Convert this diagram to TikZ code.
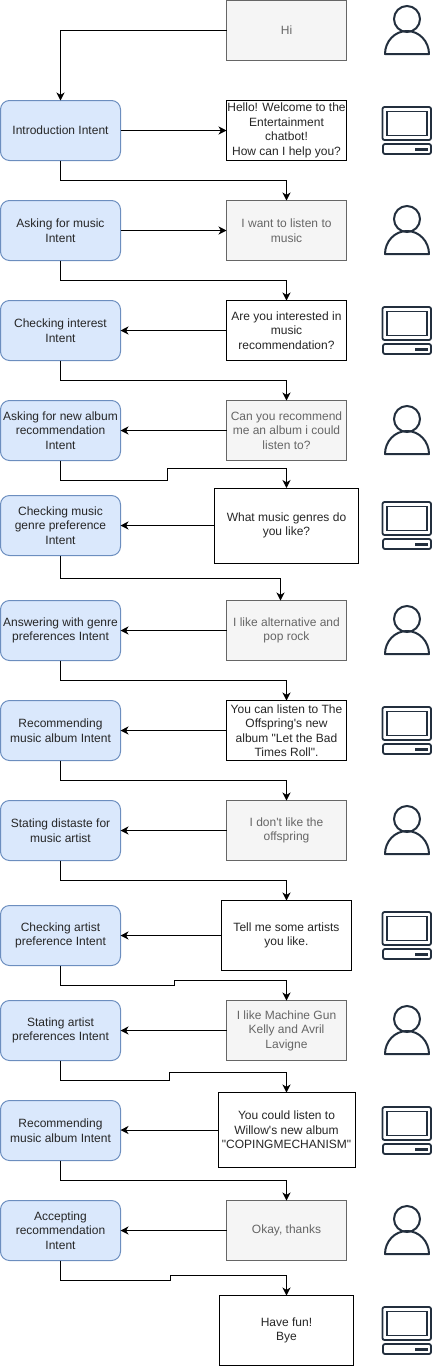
\documentclass[tikz,border=0pt]{standalone}
\usepackage{fontspec}
\setmainfont{Liberation Sans}[Ligatures=TeXOff]
\usetikzlibrary{arrows.meta,positioning}
\definecolor{intentfill}{HTML}{DAE8FC}
\definecolor{intentline}{HTML}{6C8EBF}
\definecolor{userfill}{HTML}{F5F5F5}
\definecolor{userline}{HTML}{666666}
\definecolor{iconline}{HTML}{232F3E}
\tikzset{
  base/.style={align=center,inner sep=0pt,outer sep=0pt,line width=1pt,font=\fontsize{12}{14.5}\selectfont},
  intent/.style={base,draw=intentline,fill=intentfill,rounded corners=9pt,minimum width=120pt,minimum height=60pt,text=black!85},
  userbox/.style={base,draw=userline,fill=userfill,text=userline,minimum width=120pt,minimum height=60pt},
  botbox/.style={base,draw=black,fill=white,text=black!85,minimum width=120pt,minimum height=60pt},
  conn/.style={draw=black,line width=1pt,-{Stealth[length=8pt,width=8pt,inset=2.4pt]}},
  usericon/.pic={
    \draw[iconline,line width=2pt] (0,0) circle [radius=13pt];
    \draw[iconline,line width=2pt,line join=round] (-22,35) arc[start angle=180,end angle=0,x radius=22pt,y radius=23pt] -- cycle;
  },
  pcicon/.pic={
    \draw[iconline,line width=1.8pt,rounded corners=2pt] (0,0) rectangle (48.5,33);
    \draw[iconline,line width=1.8pt] (4.5,4.5) rectangle (44.5,28.5);
    \draw[iconline,line width=1.8pt,rounded corners=2pt] (0.5,37) rectangle (48.5,47);
    \fill[iconline] (32,40.5) rectangle (45,44);
  }
}
\begin{document}
\begin{tikzpicture}[x=1pt,y=-1pt]
\useasboundingbox (0,0) rectangle (433,1366);
% left intents
\node[intent] (L1) at (60.5,130.5) {Introduction Intent};
\node[intent] (L2) at (60.5,230.5) {Asking for music\\Intent};
\node[intent] (L3) at (60.5,330.5) {Checking interest\\Intent};
\node[intent] (L4) at (60.5,430.5) {Asking for new album\\recommendation\\Intent};
\node[intent] (L5) at (60.5,525.5) {Checking music\\genre preference\\Intent};
\node[intent] (L6) at (60.5,630.5) {Answering with genre\\preferences Intent};
\node[intent] (L7) at (60.5,730.5) {Recommending\\music album Intent};
\node[intent] (L8) at (60.5,830.5) {Stating distaste for\\music artist};
\node[intent] (L9) at (60.5,935.5) {Checking artist\\preference Intent};
\node[intent] (L10) at (60.5,1030.5) {Stating artist\\preferences Intent};
\node[intent] (L11) at (60.5,1130.5) {Recommending\\music album Intent};
\node[intent] (L12) at (60.5,1230.5) {Accepting\\recommendation\\Intent};
% right messages
\node[userbox] (R0) at (286.5,30.5) {Hi};
\node[botbox] (R1) at (286.5,130.5) {Hello! Welcome to the\\Entertainment\\chatbot!\\How can I help you?};
\node[userbox] (R2) at (286.5,230.5) {I want to listen to\\music};
\node[botbox] (R3) at (286.5,330.5) {Are you interested in\\music\\recommendation?};
\node[userbox] (R4) at (286.5,430.5) {Can you recommend\\me an album i could\\listen to?};
\node[botbox,minimum width=144pt,minimum height=75pt] (R5) at (286.5,525.5) {What music genres do\\you like?};
\node[userbox] (R6) at (286.5,630.5) {I like alternative and\\pop rock};
\node[botbox] (R7) at (286.5,730.5) {You can listen to The\\Offspring's new\\album "Let the Bad\\Times Roll".};
\node[userbox] (R8) at (286.5,830.5) {I don't like the\\offspring};
\node[botbox,minimum width=130pt,minimum height=70pt] (R9) at (286.5,935.5) {Tell me some artists\\you like.};
\node[userbox] (R10) at (286.5,1030.5) {I like Machine Gun\\Kelly and Avril\\Lavigne};
\node[botbox,minimum width=137pt,minimum height=75pt] (R11) at (286.5,1130) {You could listen to\\Willow's new album\\"COPINGMECHANISM"};
\node[userbox] (R12) at (286.5,1230.5) {Okay, thanks};
\node[botbox,minimum width=134pt,minimum height=70pt] (R13) at (286.5,1330.5) {Have fun!\\Bye};
% horizontal connectors
\draw[conn] (R0.west) -| (L1.north);
\draw[conn] (L1.east) -- (R1.west);
\draw[conn] (L2.east) -- (R2.west);
\draw[conn] (R3.west) -- (L3.east);
\draw[conn] (R4.west) -- (L4.east);
\draw[conn] (R5.west) -- (L5.east);
\draw[conn] (R6.west) -- (L6.east);
\draw[conn] (R7.west) -- (L7.east);
\draw[conn] (R8.west) -- (L8.east);
\draw[conn] (R9.west) -- (L9.east);
\draw[conn] (R10.west) -- (L10.east);
\draw[conn] (R11.west) -- (L11.east |- R11.west);
\draw[conn] (R12.west) -- (L12.east);
% vertical connectors
\draw[conn] (L1.south) -- ++(0,20) -| (R2.north);
\draw[conn] (L2.south) -- ++(0,20) -| (R3.north);
\draw[conn] (L3.south) -- ++(0,20) -| (R4.north);
\draw[conn] (L4.south) -- ++(0,20) -- ++(107,0) -- ++(0,-12) -| (R5.north);
\draw[conn] (L5.south) -- ++(0,22.5) -| ([xshift=-6pt]R6.north);
\draw[conn] (L6.south) -- ++(0,20) -| (R7.north);
\draw[conn] (L7.south) -- ++(0,20) -| (R8.north);
\draw[conn] (L8.south) -- ++(0,20) -| (R9.north);
\draw[conn] (L9.south) -- ++(0,20) -- ++(114,0) -- ++(0,-5) -| (R10.north);
\draw[conn] (L10.south) -- ++(0,20) -- ++(109,0) -- ++(0,-8) -| (R11.north);
\draw[conn] (L11.south) -- ++(0,20) -| (R12.north);
\draw[conn] (L12.south) -- ++(0,20) -- ++(110,0) -- ++(0,-5) -| (R13.north);
% icons
\foreach \yy in {0,200,400,600,800,1000,1200} \pic at (407,19+\yy) {usericon};
\foreach \yy in {107,307,502,707,912,1107,1307} \pic at (382.5,\yy) {pcicon};
\end{tikzpicture}
\end{document}
